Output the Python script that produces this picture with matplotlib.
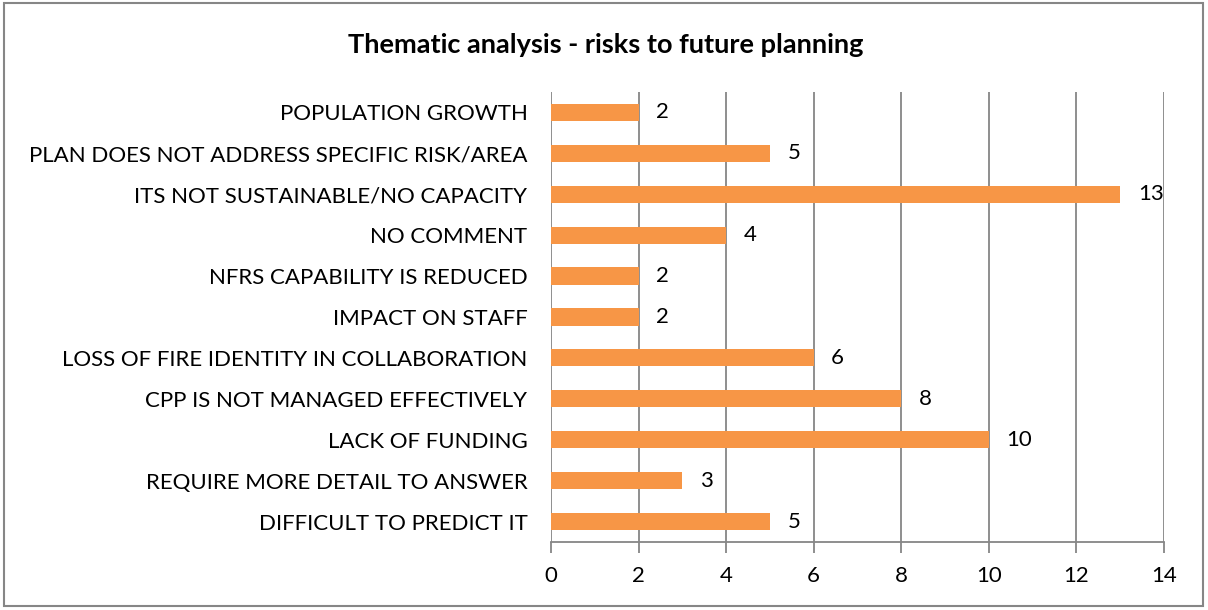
import matplotlib.pyplot as plt
from matplotlib.patches import Rectangle

categories = [
    "POPULATION GROWTH",
    "PLAN DOES NOT ADDRESS SPECIFIC RISK/AREA",
    "ITS NOT SUSTAINABLE/NO CAPACITY",
    "NO COMMENT",
    "NFRS CAPABILITY IS REDUCED",
    "IMPACT ON STAFF",
    "LOSS OF FIRE IDENTITY IN COLLABORATION",
    "CPP IS NOT MANAGED EFFECTIVELY",
    "LACK OF FUNDING",
    "REQUIRE MORE DETAIL TO ANSWER",
    "DIFFICULT TO PREDICT IT",
]
counts = [2, 5, 13, 4, 2, 2, 6, 8, 10, 3, 5]
xticks = [0, 2, 4, 6, 8, 10, 12, 14]

plt.rcParams["font.family"] = ["Lato", "DejaVu Sans"]
grid_col = "#868686"
bar_col = "#F79646"
fs = 16

fig = plt.figure(figsize=(12.08, 6.10), dpi=100)
ax = fig.add_axes([551 / 1208, 68 / 610, 613 / 1208, 450 / 610])

y = list(range(len(categories)))
ax.barh(y, counts, height=0.42, color=bar_col, zorder=3)
for yi, v in zip(y, counts):
    ax.text(v + 0.4, yi, str(v), va="center", ha="left", fontsize=fs, color="black")

ax.set_ylim(len(categories) - 0.5, -0.5)
ax.set_xlim(0, 14)
ax.set_xticks(xticks)
ax.set_yticks(y)
ax.set_yticklabels(categories, fontsize=fs)
ax.tick_params(axis="x", labelsize=fs, length=8, width=1.3, color=grid_col, pad=9)
ax.tick_params(axis="y", length=0, pad=17)
ax.xaxis.grid(True, color=grid_col, linewidth=1.3, zorder=0)
ax.set_axisbelow(True)
for s in ["top", "right", "left"]:
    ax.spines[s].set_visible(False)
ax.spines["bottom"].set_color(grid_col)
ax.spines["bottom"].set_linewidth(1.3)

fig.text(606 / 1208, 1 - 45 / 610, "Thematic analysis - risks to future planning",
         ha="center", va="center", fontsize=19.5, fontweight="bold")

fig.patches.append(Rectangle((4 / 1208, 4 / 610), 1199 / 1208, 603 / 610,
                             transform=fig.transFigure, fill=False,
                             edgecolor=grid_col, linewidth=1.5))

fig.savefig("out.png", dpi=100)
